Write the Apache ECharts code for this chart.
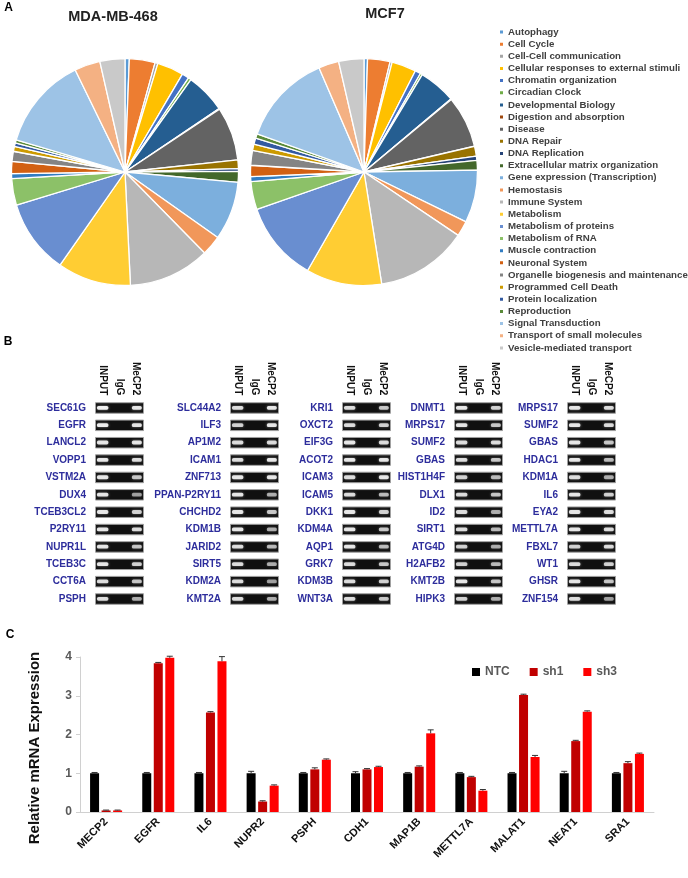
<!DOCTYPE html>
<html><head><meta charset="utf-8">
<script src="https://cdn.jsdelivr.net/npm/echarts@6/dist/echarts.min.js"></script>
<style>html,body{margin:0;padding:0;background:#fff}#c{width:688px;height:878px}</style>
</head><body><div id="c"></div><script>
// ---------- Panel A data ----------
const pathways = ['Autophagy','Cell Cycle','Cell-Cell communication','Cellular responses to external stimuli','Chromatin organization','Circadian Clock','Developmental Biology','Digestion and absorption','Disease','DNA Repair','DNA Replication','Extracellular matrix organization','Gene expression (Transcription)','Hemostasis','Immune System','Metabolism','Metabolism of proteins','Metabolism of RNA','Muscle contraction','Neuronal System','Organelle biogenesis and maintenance','Programmed Cell Death','Protein localization','Reproduction','Signal Transduction','Transport of small molecules','Vesicle-mediated transport'];
const pathwayColors = ['#5B9BD5','#ED7D31','#A5A5A5','#FFC000','#4472C4','#70AD47','#255E91','#9E480E','#636363','#997300','#264478','#43682B','#7CAFDD','#F1975A','#B7B7B7','#FFCD33','#698ED0','#8CC168','#327DC2','#D26012','#848484','#CC9A00','#335AA1','#5A8A39','#9DC3E6','#F4B183','#C9C9C9'];
const mdaValues  = [0.6,3.6,0.4,3.7,1.0,0.4,5.6,0.1,7.5,1.2,0.4,1.5,8.2,2.8,11.4,10.3,10.4,3.7,0.7,1.7,1.4,0.7,0.5,0.4,13.0,3.6,3.5];
const mcf7Values = [0.5,3.2,0.3,3.5,0.8,0.3,5.3,0.1,7.4,1.4,0.6,1.4,7.5,2.2,13.1,10.8,11.4,4.0,0.7,1.6,2.1,0.9,0.9,0.6,13.1,2.9,3.6];

// ---------- Panel B data ----------
const gelLanes = ['INPUT','IgG','MeCP2'];
const gelGenes1 = ['SEC61G','EGFR','LANCL2','VOPP1','VSTM2A','DUX4','TCEB3CL2','P2RY11','NUPR1L','TCEB3C','CCT6A','PSPH'];
const gelGenes2 = ['SLC44A2','ILF3','AP1M2','ICAM1','ZNF713','PPAN-P2RY11','CHCHD2','KDM1B','JARID2','SIRT5','KDM2A','KMT2A'];
const gelGenes3 = ['KRI1','OXCT2','EIF3G','ACOT2','ICAM3','ICAM5','DKK1','KDM4A','AQP1','GRK7','KDM3B','WNT3A'];
const gelGenes4 = ['DNMT1','MRPS17','SUMF2','GBAS','HIST1H4F','DLX1','ID2','SIRT1','ATG4D','H2AFB2','KMT2B','HIPK3'];
const gelGenes5 = ['MRPS17','SUMF2','GBAS','HDAC1','KDM1A','IL6','EYA2','METTL7A','FBXL7','WT1','GHSR','ZNF154'];
const gelInput1 = [0.9,0.9,0.85,0.85,0.85,0.85,0.85,0.85,0.85,0.85,0.8,0.8];
const gelInput2 = [0.8,0.75,0.8,0.8,0.85,0.85,0.85,0.85,0.8,0.8,0.8,0.8];
const gelInput3 = [0.8,0.8,0.85,0.85,0.8,0.8,0.85,0.85,0.85,0.8,0.8,0.8];
const gelInput4 = [0.85,0.85,0.8,0.8,0.75,0.8,0.8,0.8,0.75,0.75,0.85,0.75];
const gelInput5 = [0.85,0.85,0.85,0.85,0.8,0.85,0.85,0.85,0.75,0.8,0.85,0.8];
const gelMecp1 = [0.85,0.85,0.85,0.8,0.7,0.55,0.75,0.8,0.7,0.75,0.7,0.6];
const gelMecp2 = [0.85,0.85,0.8,0.85,0.85,0.6,0.7,0.6,0.65,0.6,0.55,0.6];
const gelMecp3 = [0.7,0.75,0.8,0.85,0.85,0.65,0.75,0.7,0.65,0.7,0.75,0.7];
const gelMecp4 = [0.75,0.7,0.8,0.7,0.65,0.7,0.6,0.65,0.6,0.65,0.7,0.6];
const gelMecp5 = [0.8,0.8,0.7,0.65,0.6,0.75,0.8,0.8,0.8,0.75,0.7,0.55];

// ---------- Panel C data ----------
const qpcrGenes = ['MECP2','EGFR','IL6','NUPR2','PSPH','CDH1','MAP1B','METTL7A','MALAT1','NEAT1','SRA1'];
const seriesNames = ['NTC','sh1','sh3'];
const ntcValues = [1.0,1.0,1.0,1.0,1.0,1.0,1.0,1.0,1.0,1.0,1.0];
const sh1Values = [0.04,3.84,2.57,0.27,1.10,1.10,1.17,0.90,3.02,1.83,1.26];
const sh3Values = [0.04,3.98,3.89,0.68,1.35,1.16,2.03,0.55,1.42,2.59,1.50];
const ntcErr = [0.02,0.02,0.02,0.05,0.02,0.04,0.02,0.02,0.02,0.05,0.02];
const sh1Err = [0.01,0.02,0.02,0.02,0.04,0.02,0.02,0.02,0.02,0.02,0.04];
const sh3Err = [0.01,0.04,0.12,0.02,0.02,0.02,0.09,0.03,0.04,0.02,0.02];

// ---------- layout ----------
const FONT = 'Liberation Sans';
const gelLefts = [95,230,342,454,567];
const gelTop = 399.3, gelW = 49, gelH = 208.4;
const gelGenes = [gelGenes1,gelGenes2,gelGenes3,gelGenes4,gelGenes5];
const gelInputs = [gelInput1,gelInput2,gelInput3,gelInput4,gelInput5];
const gelMecps = [gelMecp1,gelMecp2,gelMecp3,gelMecp4,gelMecp5];

function band(x, y, a, w) {
  return {type:'rect', shape:{x:x-w/2, y:y-2.1, width:w, height:3.8, r:1.6},
    style:{fill:'rgba(255,255,255,'+a+')', shadowBlur:3, shadowColor:'rgba(255,255,255,'+(a*0.6)+')'}};
}
function gelRender(params, api) {
  const cs = params.coordSys;
  const idx = api.value(1);
  const c0 = api.coord([0, idx]);
  const c2 = api.coord([2, idx]);
  const yc = c0[1];
  const h = 10.5;
  return {type:'group', children:[
    {type:'rect', shape:{x:cs.x+0.5, y:yc-h/2, width:cs.width-1, height:h}, style:{fill:'#101010', stroke:'#a0a0a0', lineWidth:1}},
    band(c0[0]-0.5, yc, api.value(2), 11.5),
    band(c2[0]+1, yc, api.value(3), 10)
  ]};
}
function errRender(params, api) {
  const i = api.value(0), v = api.value(1), e = api.value(2), s = api.value(3);
  const p = api.coord([i, v]);
  const t = api.coord([i, v + e]);
  const x = p[0] + (s - 1) * 11.5;
  return {type:'group', children:[
    {type:'line', shape:{x1:x, y1:p[1], x2:x, y2:t[1]}, style:{stroke:'#333', lineWidth:1}},
    {type:'line', shape:{x1:x-3, y1:t[1], x2:x+3, y2:t[1]}, style:{stroke:'#333', lineWidth:1}}
  ]};
}

const grids = [], xAxes = [], yAxes = [], series = [];
for (let g = 0; g < 5; g++) {
  grids.push({left:gelLefts[g], top:gelTop, width:gelW, height:gelH});
  xAxes.push({gridIndex:g, type:'category', position:'top', data:gelLanes,
    axisLine:{show:false}, axisTick:{show:false}, splitLine:{show:false},
    axisLabel:{rotate:90, margin:4, interval:0, fontSize:10, fontWeight:'bold', color:'#111', fontFamily:FONT}});
  yAxes.push({gridIndex:g, type:'category', inverse:true, data:gelGenes[g],
    axisLine:{show:false}, axisTick:{show:false}, splitLine:{show:false},
    axisLabel:{margin:9, interval:0, fontSize:10, fontWeight:'bold', color:'#2d2d9c', fontFamily:FONT}});
  series.push({type:'custom', xAxisIndex:g, yAxisIndex:g, silent:true, renderItem:gelRender,
    encode:{x:0, y:1},
    data:gelGenes[g].map((n, j) => [0, j, gelInputs[g][j], gelMecps[g][j]])});
}
// bar chart grid
grids.push({left:80, right:34, top:657, bottom:66});
xAxes.push({gridIndex:5, type:'category', data:qpcrGenes,
  axisLine:{lineStyle:{color:'#d0d0d0'}}, axisTick:{length:5, lineStyle:{color:'#d0d0d0'}},
  axisLabel:{rotate:45, margin:8, interval:0, fontSize:11, fontWeight:'bold', color:'#111', fontFamily:FONT}});
yAxes.push({gridIndex:5, type:'value', min:0, max:4, interval:1,
  axisLine:{show:true, lineStyle:{color:'#d0d0d0'}}, axisTick:{show:true, length:4, lineStyle:{color:'#d0d0d0'}},
  splitLine:{show:false},
  axisLabel:{margin:8, fontSize:12, fontWeight:'bold', color:'#595959', fontFamily:FONT}});
const barColors = ['#000000','#C00000','#FF0000'];
const barVals = [ntcValues, sh1Values, sh3Values];
const errVals = [ntcErr, sh1Err, sh3Err];
for (let s = 0; s < 3; s++) {
  series.push({type:'bar', name:seriesNames[s], xAxisIndex:5, yAxisIndex:5, data:barVals[s],
    barWidth:9, barGap:'28%', itemStyle:{color:barColors[s]}, silent:true});
}
const errData = [];
for (let s = 0; s < 3; s++) for (let i = 0; i < qpcrGenes.length; i++) errData.push([i, barVals[s][i], errVals[s][i], s]);
series.push({type:'custom', xAxisIndex:5, yAxisIndex:5, silent:true, renderItem:errRender, encode:{x:0, y:1}, data:errData, z:5});

// pies
function pieData(vals) { return pathways.map((n, i) => ({name:n, value:vals[i], itemStyle:{color:pathwayColors[i]}})); }
const pieCommon = {type:'pie', radius:113.5, startAngle:90, clockwise:true, silent:true,
  label:{show:false}, labelLine:{show:false}, itemStyle:{borderColor:'#fff', borderWidth:1.3}, emphasis:{disabled:true}};
series.push(Object.assign({}, pieCommon, {name:'MDA-MB-468', center:[125,172], data:pieData(mdaValues)}));
series.push(Object.assign({}, pieCommon, {name:'MCF7', center:[364,172], data:pieData(mcf7Values)}));

function txt(t, x, y, size, color, extra) {
  return Object.assign({type:'text', x:x, y:y, style:{text:t, align:'center', verticalAlign:'middle',
    fontSize:size, fontWeight:'bold', fontFamily:FONT, fill:color}}, extra || {});
}

const option = {
  animation:false,
  textStyle:{fontFamily:FONT},
  grid:grids, xAxis:xAxes, yAxis:yAxes, series:series,
  legend:[
    {data:pathways, orient:'vertical', left:493, top:21, icon:'rect', itemWidth:5, itemHeight:5, itemGap:0.15,
      selectedMode:false, textStyle:{fontSize:9.7, fontWeight:'bold', color:'#404040', lineHeight:12, padding:[0,0,0,-1]}},
    {data:seriesNames, orient:'horizontal', left:467, top:661, icon:'rect', itemWidth:8, itemHeight:8, itemGap:20,
      selectedMode:false, textStyle:{fontSize:12, fontWeight:'bold', color:'#595959'}}
  ],
  graphic:[
    txt('A', 8.7, 8, 12, '#000'),
    txt('B', 8, 341.5, 12, '#000'),
    txt('C', 10, 635, 12, '#000'),
    txt('MDA-MB-468', 113, 17, 14.5, '#222'),
    txt('MCF7', 385, 14, 14.5, '#222'),
    txt('Relative mRNA Expression', 35, 748, 15, '#111', {rotation:Math.PI/2})
  ]
};
const chart = echarts.init(document.getElementById('c'), null, {renderer:'canvas'});
chart.setOption(option);
</script></body></html>
